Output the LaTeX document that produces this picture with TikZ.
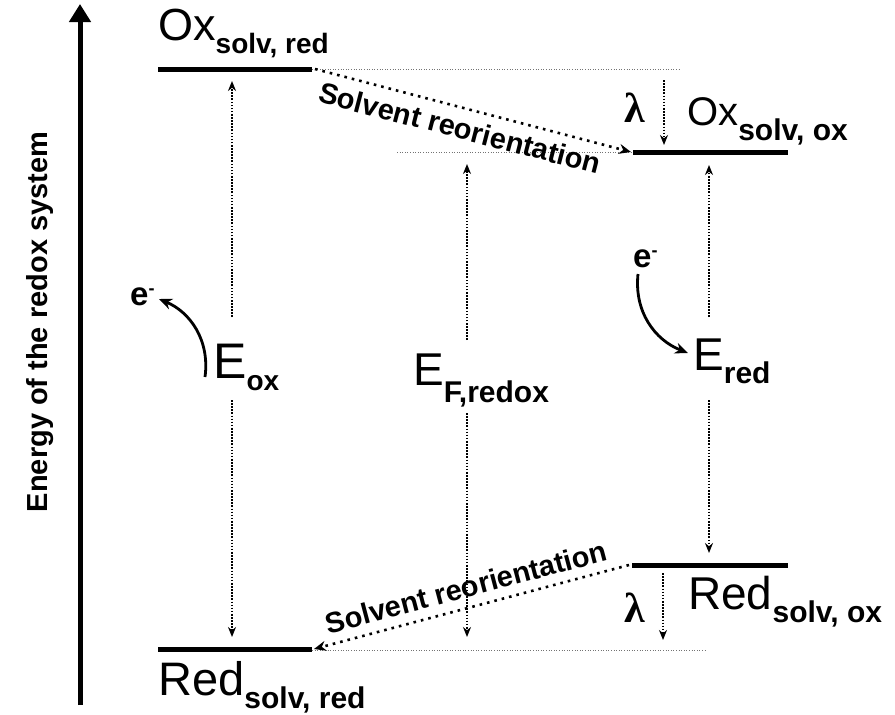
\documentclass[tikz,border=0pt]{standalone}
\usepackage{fontspec}
\setmainfont{Liberation Sans}
\newfontfamily\lamfont{Liberation Serif}
\usetikzlibrary{arrows.meta}
\newcommand\fsz[1]{\fontsize{#1}{#1}\selectfont}
\newcommand\lvl[5]{{\fsz{#3}#1}\raisebox{-#5pt}{\fsz{#4}\bfseries #2}}
\newcommand\elec{{\fsz{33}\bfseries e\raisebox{11pt}{\fsz{18}-}}}
\begin{document}
\begin{tikzpicture}[x=1pt,y=-1pt,
  level/.style={line width=5pt},
  guide/.style={line width=0.9pt, black!55, dash pattern=on 1pt off 1.6pt},
  varrow/.style={line width=1.7pt, dash pattern=on 1.6pt off 1.5pt, -{Stealth[length=10pt,width=8pt]}},
  solvent/.style={line width=2.6pt, dash pattern=on 2.6pt off 5pt, -{Stealth[length=12pt,width=10pt]}},
  earrow/.style={line width=2.8pt, -{Stealth[length=13pt,width=11pt]}},
  lbl/.style={anchor=base west, inner sep=0pt},
  slv/.style={font=\fsz{29}\bfseries, inner sep=0pt}
]
\useasboundingbox (0,0) rectangle (895,715);

% energy axis
\coordinate (axb) at (80,705);
\coordinate (axt) at (80,4);
\draw[line width=5pt, -{Triangle[length=18pt,width=21pt]}] (axb) -- (axt);
\node[rotate=90, font=\fsz{29}\bfseries, inner sep=0pt] (axlbl) at (40,322) {Energy of the redox system};

% levels
\coordinate (oxredL) at (158,69);  \coordinate (oxredR) at (312,69);
\coordinate (oxoxL) at (633,152);  \coordinate (oxoxR) at (788,152);
\coordinate (redoxL) at (632,565); \coordinate (redoxR) at (788,565);
\coordinate (redredL) at (158,649);\coordinate (redredR) at (312,649);
\draw[level] (oxredL) -- (oxredR);
\draw[level] (oxoxL) -- (oxoxR);
\draw[level] (redoxL) -- (redoxR);
\draw[level] (redredL) -- (redredR);

% guides
\coordinate (g1e) at (681,69);
\coordinate (g2s) at (397,152);
\coordinate (g3e) at (705,650);
\draw[guide] (oxredR) -- (g1e);
\draw[guide] (g2s) -- (oxoxL);
\draw[guide] ([yshift=-1pt]redredR) -- (g3e);

% level labels
\node[lbl] (tOxRed) at (158,40) {\lvl{Ox}{solv, red}{45}{28}{13}};
\node[lbl] (tOxOx) at (687,125) {\lvl{Ox}{solv, ox}{40}{30}{15}};
\node[lbl] (tRedOx) at (688,609) {\lvl{Red}{solv, ox}{46}{30}{13}};
\node[lbl] (tRedRed) at (158,695) {\lvl{Red}{solv, red}{47}{30}{13}};

% energy labels
\node[lbl] (Eox) at (213,378) {\lvl{E}{ox}{50}{28}{12}};
\node[lbl] (EF) at (413,385) {\lvl{E}{F,redox}{46}{30}{17}};
\node[lbl] (Ered) at (693,370) {\lvl{E}{red}{46}{30}{13}};

% vertical arrows
\coordinate (a1t) at (232,317); \coordinate (a1tt) at (232,81);
\coordinate (a1b) at (232,400); \coordinate (a1bb) at (232,637);
\coordinate (a2t) at (467,340); \coordinate (a2tt) at (467,164);
\coordinate (a2b) at (467,413); \coordinate (a2bb) at (467,637);
\coordinate (a3t) at (709,317); \coordinate (a3tt) at (709,165);
\coordinate (a3b) at (709,400); \coordinate (a3bb) at (709,553);
\draw[varrow] (a1t) -- (a1tt);
\draw[varrow] (a1b) -- (a1bb);
\draw[varrow] (a2t) -- (a2tt);
\draw[varrow] (a2b) -- (a2bb);
\draw[varrow] (a3t) -- (a3tt);
\draw[varrow] (a3b) -- (a3bb);

% lambda
\node[lbl, font=\lamfont\bfseries\fsz{42}] (lam1) at (624,122) {λ};
\node[lbl, font=\lamfont\bfseries\fsz{42}] (lam2) at (624,622) {λ};
\coordinate (l1s) at (664,80);  \coordinate (l1e) at (664,145);
\coordinate (l2s) at (663,573); \coordinate (l2e) at (663,640);
\draw[varrow] (l1s) -- (l1e);
\draw[varrow] (l2s) -- (l2e);

% solvent reorientation
\draw[solvent] ([xshift=3pt]oxredR) -- ([xshift=-2pt]oxoxL);
\draw[solvent] ([xshift=-3pt]redoxL) -- ([xshift=2pt]redredR);
\node[slv, rotate=-14.5] (sr1) at (460,128) {Solvent reorientation};
\node[slv, rotate=14.8] (sr2) at (466,587) {Solvent reorientation};

% electrons
\node[lbl] (eL) at (130,305) {\elec};
\node[lbl] (eR) at (633,267) {\elec};
\coordinate (c1s) at (205,377); \coordinate (c1e) at (159,299);
\coordinate (c2s) at (638,274); \coordinate (c2e) at (688,353);
\draw[earrow] (c1s) .. controls (210,340) and (190,312) .. (c1e);
\draw[earrow] (c2s) .. controls (634,312) and (655,340) .. (c2e);
\end{tikzpicture}
\end{document}
